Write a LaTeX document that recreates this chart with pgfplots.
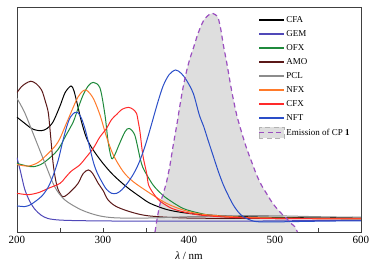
\documentclass[border=0pt]{standalone}
\usepackage{pgfplots}
\pgfplotsset{compat=1.18}
\usepackage{fontspec}
\setmainfont{Liberation Serif}
\definecolor{cGEM}{HTML}{5048B8}
\definecolor{cOFX}{HTML}{1F8A3C}
\definecolor{cAMO}{HTML}{5A1818}
\definecolor{cPCL}{HTML}{8C8C8C}
\definecolor{cNFX}{HTML}{FF7A2A}
\definecolor{cCFX}{HTML}{FF2A2A}
\definecolor{cNFT}{HTML}{2A4EC8}
\definecolor{cEM}{HTML}{9B4FC0}
\definecolor{cFill}{HTML}{DEDEDE}
\definecolor{cFrame}{HTML}{404040}
\begin{document}
\begin{tikzpicture}
\useasboundingbox (-17pt,-38pt) rectangle (371pt,232pt);
\begin{axis}[
  at={(0,0)}, anchor=south west,
  width=344pt, height=225pt, scale only axis,
  xmin=200, xmax=600, ymin=0, ymax=1,
  ytick=\empty,
  xtick={200,300,400,500,600},
  minor xtick={250,350,450,550},
  xtick pos=bottom,
  tick align=inside,
  major tick length=4pt, minor tick length=4pt,
  every tick/.style={cFrame, line width=0.6pt},
  axis line style={cFrame, line width=0.8pt},
  /pgf/number format/assume math mode=true,
  ticklabel style={font=\fontsize{11}{12}\selectfont},
  xticklabel style={yshift=-1pt},
  xlabel={\textit{λ} / nm},
  xlabel style={font=\fontsize{11}{12}\selectfont, yshift=-1pt},
  legend cell align=left,
  legend style={draw=none, fill=none, at={(0.702,0.965)}, anchor=north west,
    font=\fontsize{9}{10}\selectfont, row sep=4.5pt, inner sep=0pt,
    nodes={text height=6.5pt, text depth=1pt, inner sep=1pt}},
  legend image code/.code={\draw[#1, line width=1.6pt] (0pt,0pt) -- (25pt,0pt);},
  every axis plot/.append style={line width=1pt, smooth},
]
% emission fill
\addplot[fill=cFill, draw=none, forget plot] coordinates {
(360.5,0)(363,0.06)(366,0.12)(370,0.17)(374,0.224)(378,0.30)(381.7,0.387)(386,0.48)(389.5,0.564)(393,0.64)(397,0.712)(401,0.77)(405,0.816)(409,0.865)(412.8,0.905)(417,0.94)(420.6,0.957)(424,0.968)(427.5,0.972)(431,0.965)(434,0.95)(437,0.9)(440,0.83)(444,0.75)(447.7,0.668)(451,0.60)(455.5,0.52)(461,0.445)(467,0.372)(473,0.31)(478.7,0.253)(484,0.21)(490,0.172)(496,0.135)(502,0.105)(508,0.08)(513.6,0.06)(518,0.04)(523,0.024)(526,0)
};
\addplot[black] coordinates {
(200,0.51)(205,0.495)(210,0.48)(215,0.465)(220,0.455)(228,0.45)(235,0.46)(242,0.49)(250,0.56)(256,0.62)(262.8,0.649)(266,0.63)(269.4,0.58)(275,0.49)(281,0.416)(288.7,0.364)(300,0.305)(312,0.253)(327.6,0.20)(343,0.157)(355,0.127)(374,0.10)(393,0.086)(413,0.078)(450,0.07)(500,0.065)(550,0.063)(600,0.065)
};
\addlegendentry{CFA}
\addplot[cGEM] coordinates {
(200,0.33)(204,0.27)(209,0.19)(215,0.135)(221,0.10)(228,0.075)(236,0.06)(250,0.053)(280,0.05)(350,0.048)(450,0.048)(520,0.05)(600,0.052)
};
\addlegendentry{GEM}
\addplot[cOFX] coordinates {
(200,0.305)(210,0.295)(219,0.29)(230,0.305)(244,0.35)(250,0.38)(257,0.43)(265.5,0.49)(271,0.55)(277,0.61)(283,0.65)(288.7,0.665)(296.5,0.64)(302.3,0.52)(306,0.40)(310,0.327)(314,0.345)(317.8,0.38)(325.6,0.446)(330.6,0.46)(337,0.43)(343,0.33)(346,0.29)(350,0.26)(358,0.21)(365,0.18)(374,0.15)(393,0.105)(413,0.083)(432,0.07)(460,0.065)(500,0.062)(600,0.058)
};
\addlegendentry{OFX}
\addplot[cAMO] coordinates {
(200,0.62)(205,0.645)(210,0.66)(216,0.67)(222,0.66)(228.7,0.63)(233,0.58)(236.4,0.53)(239,0.43)(242,0.305)(245,0.23)(248,0.187)(253,0.157)(258,0.165)(265,0.19)(271,0.216)(277,0.26)(283,0.276)(288,0.26)(294.5,0.216)(300,0.185)(306,0.142)(316,0.112)(335,0.086)(355,0.071)(400,0.062)(500,0.06)(600,0.06)
};
\addlegendentry{AMO}
\addplot[cPCL] coordinates {
(200,0.594)(209,0.53)(220.6,0.42)(232.6,0.305)(244,0.20)(255.8,0.142)(275,0.098)(294.5,0.073)(314,0.063)(350,0.062)(400,0.068)(450,0.072)(500,0.072)(550,0.068)(600,0.065)
};
\addlegendentry{PCL}
\addplot[cNFX] coordinates {
(200,0.30)(213,0.293)(225,0.31)(236.4,0.35)(245,0.385)(250,0.416)(255.8,0.468)(261.6,0.52)(267.4,0.572)(271,0.60)(276,0.625)(281,0.63)(288.7,0.594)(296.5,0.52)(304,0.424)(312,0.342)(323.6,0.268)(335,0.224)(354.7,0.172)(374,0.127)(393,0.098)(413,0.08)(450,0.068)(500,0.062)(600,0.06)
};
\addlegendentry{NFX}
\addplot[cCFX] coordinates {
(200,0.172)(213,0.166)(225,0.175)(236.4,0.194)(250,0.216)(255.8,0.24)(263,0.27)(273,0.298)(280,0.33)(288.7,0.372)(296,0.42)(304,0.46)(310,0.50)(316,0.523)(322,0.545)(329.5,0.554)(335,0.545)(339,0.527)(341,0.49)(343,0.446)(345,0.38)(347,0.327)(350.8,0.26)(353,0.209)(358.5,0.172)(364,0.145)(370,0.127)(380,0.105)(393,0.09)(413,0.075)(450,0.065)(500,0.06)(600,0.058)
};
\addlegendentry{CFX}
\addplot[cNFT] coordinates {
(200,0.116)(209,0.113)(215,0.12)(221,0.135)(229,0.16)(236.4,0.20)(242,0.25)(248,0.32)(253,0.40)(257.8,0.468)(262,0.51)(267.4,0.532)(271,0.53)(275,0.505)(279,0.46)(283,0.40)(288.7,0.312)(293,0.265)(298.5,0.224)(304,0.19)(310,0.172)(316,0.172)(321.7,0.187)(328,0.215)(335,0.255)(341,0.30)(347,0.36)(352,0.42)(358,0.50)(364,0.58)(370,0.65)(377,0.70)(384.5,0.72)(391,0.705)(397,0.675)(405,0.616)(412,0.52)(417,0.47)(422,0.41)(428,0.34)(434,0.27)(440,0.209)(446,0.16)(451.5,0.12)(457,0.09)(463,0.068)(470,0.055)(478.7,0.046)(500,0.045)(550,0.048)(600,0.05)
};
\addlegendentry{NFT}
\addplot[cEM, line width=1.2pt, dash pattern=on 5pt off 3.5pt,
  legend image code/.code={\fill[cFill, draw=gray!60, line width=0.3pt] (0pt,-5.5pt) rectangle (25pt,5.5pt); \draw[cEM, line width=1.3pt, dash pattern=on 5pt off 3.5pt] (0pt,0pt) -- (25pt,0pt);}] coordinates {
(360.5,0)(363,0.06)(366,0.12)(370,0.17)(374,0.224)(378,0.30)(381.7,0.387)(386,0.48)(389.5,0.564)(393,0.64)(397,0.712)(401,0.77)(405,0.816)(409,0.865)(412.8,0.905)(417,0.94)(420.6,0.957)(424,0.968)(427.5,0.972)(431,0.965)(434,0.95)(437,0.9)(440,0.83)(444,0.75)(447.7,0.668)(451,0.60)(455.5,0.52)(461,0.445)(467,0.372)(473,0.31)(478.7,0.253)(484,0.21)(490,0.172)(496,0.135)(502,0.105)(508,0.08)(513.6,0.06)(518,0.04)(523,0.024)(526,0)
};
\addlegendentry{Emission of CP \textbf{1}}
\end{axis}
\end{tikzpicture}
\end{document}
